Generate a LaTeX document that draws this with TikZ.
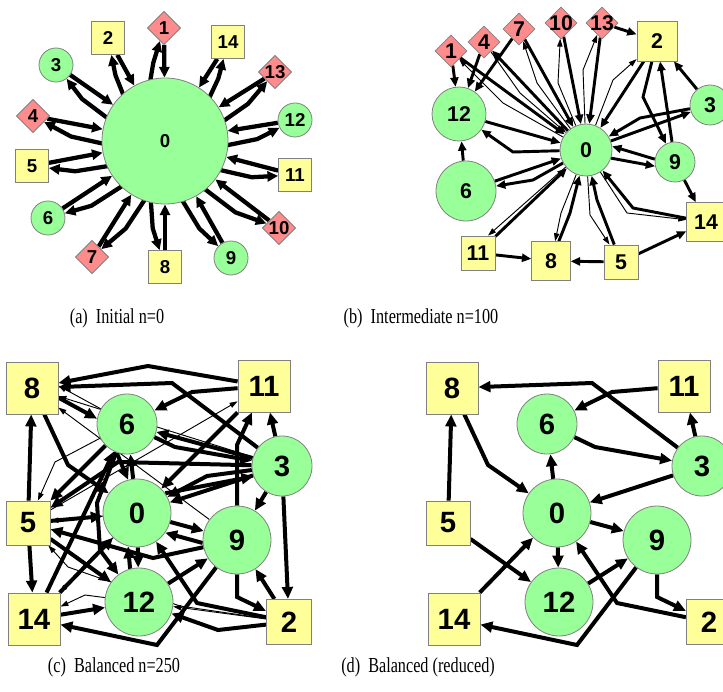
\documentclass[tikz,border=0pt]{standalone}
\usepackage{fontspec}
\setmainfont{Liberation Serif}
\newfontfamily\labfont{Liberation Sans}
\usetikzlibrary{shapes.geometric,arrows.meta,calc}
\pgfdeclarelayer{edges}
\pgfsetlayers{edges,main}
\definecolor{sqy}{RGB}{255,255,153}
\definecolor{cig}{RGB}{153,255,153}
\definecolor{dir}{RGB}{255,140,140}
\definecolor{bdr}{RGB}{128,128,128}
\tikzset{
 nb/.style={draw=bdr, line width=0.6pt, inner sep=0pt},
 sqn/.style={nb, rectangle, fill=sqy, minimum size=#1},
 cin/.style={nb, circle, fill=cig, minimum size=#1},
 din/.style={nb, diamond, fill=dir, minimum width=#1, minimum height=#1},
 fa/.style={font=\labfont\bfseries\fontsize{14}{14}\selectfont},
 fb/.style={font=\labfont\bfseries\fontsize{16}{16}\selectfont},
 fc/.style={font=\labfont\bfseries\fontsize{22}{22}\selectfont},
 ea/.style={line width=3.2pt, -{Triangle[length=8pt,width=7.5pt]}},
 bk/.style={line width=2.2pt, -{Triangle[length=7pt,width=6pt]}},
 bt/.style={line width=0.7pt, -{Triangle[length=6pt,width=4pt]}},
 ck/.style={line width=3pt, -{Triangle[length=9pt,width=8pt]}},
 ct/.style={line width=0.7pt, -{Triangle[length=6pt,width=4pt]}},
 captxt/.style={font=\fontsize{16}{17}\selectfont}
}
\newcommand\captext[1]{\scalebox{0.76}[1]{#1}}
\newcommand\spoke[3]{%
  \draw[ea] (#1) -- (a0);
  \draw[ea] ($(a0)!47pt!#2:(#1)$) -- ($(a0)!0.7!#3:(#1)$) -- (#1);
}
\newcommand\balnodes[1]{%
 \node[sqn=39pt,fc] (#18) at (32,388) {8};
 \node[sqn=39pt,fc] (#111) at (264,386) {11};
 \node[cin=45pt,fc] (#16) at (127,424) {6};
 \node[cin=45pt,fc] (#13) at (282,466) {3};
 \node[cin=51pt,fc] (#10) at (137,513) {0};
 \node[sqn=33pt,fc] (#15) at (28,523) {5};
 \node[cin=51pt,fc] (#19) at (237,540) {9};
 \node[cin=51pt,fc] (#112) at (139,602) {12};
 \node[sqn=39pt,fc] (#114) at (34,619) {14};
 \node[sqn=34pt,fc] (#12) at (289,622) {2};
}
\newcommand\redges[1]{%
 \draw[ck] (#111) -- (192,392) -- (#16);
 \draw[ck] (#13) -- (172,383) -- (#18);
 \draw[ck] (#16) -- (175,447) -- (#13);
 \draw[ck] (#13) -- (#111);
 \draw[ck] (#13) -- (#10);
 \draw[ck] (#10) -- (#16);
 \draw[ck] (#18) -- (68,465) -- (#10);
 \draw[ck] (#15) -- (#18);
 \draw[ck] (#10) -- (#19);
 \draw[ck] (#10) -- (#112);
 \draw[ck] (#15) -- (#112);
 \draw[ck] (#114) -- (#10);
 \draw[ck] (#112) -- (#19);
 \draw[ck] (#19) -- (157,645) -- (#114);
 \draw[ck] (#12) -- (197,603) -- (#10);
 \draw[ck] (#19) -- (237,597) -- (#12);
}
\begin{document}
\begin{tikzpicture}[x=0.75pt,y=-0.75pt]
\useasboundingbox (0,0) rectangle (723,691);
% ---------- (a) ----------
\node[cin=94.5pt,fa] (a0) at (165,141) {0};
\node[din=25pt,label={[fa]center:1}] (a1) at (164,28) {};
\node[sqn=24.75pt,fa] (a2) at (108,38) {2};
\node[cin=25.5pt,fa] (a3) at (56,65) {3};
\node[din=25pt,label={[fa]center:4}] (a4) at (33,116) {};
\node[sqn=24.75pt,fa] (a5) at (32,166) {5};
\node[cin=25.5pt,fa] (a6) at (48,218) {6};
\node[din=25pt,label={[fa]center:7}] (a7) at (92,257) {};
\node[sqn=24.75pt,fa] (a8) at (165,267) {8};
\node[cin=25.5pt,fa] (a9) at (231,258) {9};
\node[din=25pt,label={[fa]center:10}] (a10) at (279,228) {};
\node[sqn=24.75pt,fa] (a11) at (295,175) {11};
\node[cin=25.5pt,fa] (a12) at (295,120) {12};
\node[din=25pt,label={[fa]center:13}] (a13) at (275,72) {};
\node[sqn=24.75pt,fa] (a14) at (228,42) {14};
\begin{pgfonlayer}{edges}
\spoke{a1}{13}{8}
\spoke{a2}{13}{8}
\spoke{a3}{13}{8}
\spoke{a4}{13}{8}
\spoke{a5}{13}{8}
\spoke{a6}{13}{8}
\spoke{a7}{13}{8}
\spoke{a8}{-13}{-8}
\spoke{a9}{-13}{-8}
\spoke{a10}{-13}{-8}
\spoke{a11}{-13}{-8}
\spoke{a12}{-13}{-8}
\spoke{a13}{-13}{-8}
\spoke{a14}{-13}{-8}
\end{pgfonlayer}
% ---------- (b) ----------
\node[cin=39pt,fb] (b0) at (586,150) {0};
\node[din=24pt,label={[fb]center:1}] (b1) at (451,51) {};
\node[din=24pt,label={[fb]center:4}] (b4) at (484,42) {};
\node[din=24pt,label={[fb]center:7}] (b7) at (519,29) {};
\node[din=24pt,label={[fb]center:10}] (b10) at (561,23) {};
\node[din=24pt,label={[fb]center:13}] (b13) at (602,23) {};
\node[sqn=30pt,fb] (b2) at (657,41) {2};
\node[cin=30pt,fb] (b3) at (710,105) {3};
\node[cin=40.5pt,fb] (b12) at (459,114) {12};
\node[cin=30pt,fb] (b9) at (675,162) {9};
\node[cin=45pt,fb] (b6) at (466,191) {6};
\node[sqn=29pt,fb] (b14) at (706,222) {14};
\node[sqn=25.5pt,fb] (b11) at (478,253) {11};
\node[sqn=29pt,fb] (b8) at (551,261) {8};
\node[sqn=25.5pt,fb] (b5) at (621,262) {5};
\begin{pgfonlayer}{edges}
\draw[bk] (b13) -- (b2);
\draw[bk] (b1) -- (b12);
\draw[bk] (b4) -- (b12);
\draw[bk] (b7) -- (b12);
\draw[bk] (b1) -- (b0);
\draw[bt] (b0) -- (503,103) -- (b1);
\draw[bk] (b0) -- (b4);
\draw[bt] (b4) -- (520,93) -- (b0);
\draw[bk] (b7) -- (b0);
\draw[bt] (b0) -- (537,83) -- (b7);
\draw[bk] (b10) -- (b0);
\draw[bt] (b0) -- (558,83) -- (b10);
\draw[bk] (b13) -- (b0);
\draw[bt] (b0) -- (583,70) -- (b13);
\draw[bk] (b2) -- (b0);
\draw[bt] (b0) -- (613,80) -- (b2);
\draw[bk] (b2) -- (643,97) -- (b9);
\draw[bk] (b9) -- (b2);
\draw[bk] (b3) -- (b2);
\draw[bk] (b3) -- (640,118) -- (b0);
\draw[bk] (b0) -- (b3);
\draw[bk] (b12) -- (b0);
\draw[bk] (b0) -- (513,152) -- (b12);
\draw[bk] (b6) -- (b12);
\draw[bk] (b6) -- (b0);
\draw[bk] (b0) -- (533,180) -- (b6);
\draw[bk] (b9.172) -- (b0.8);
\draw[bk] (b0.-18) -- (b9.192);
\draw[bk] (b9) -- (b14);
\draw[bk] (b14) -- (633,208) -- (b0);
\draw[bt] (b0) -- (627,213) -- (b14);
\draw[bk] (b5) -- (b14);
\draw[bk] (b5) -- (b8);
\draw[bk] (b11) -- (b8);
\draw[bk] (b11) -- (b0);
\draw[bt] (b0.220) -- (b11.60);
\draw[bk] (b8) -- (570,213) -- (b0);
\draw[bt] (b0) -- (561,213) -- (b8);
\draw[bk] (b5) -- (597,200) -- (b0);
\draw[bt] (b0) -- (590,215) -- (b5);
\end{pgfonlayer}
% ---------- (c) ----------
\balnodes{c}
\begin{pgfonlayer}{edges}
\redges{c}
\draw[ck] (c11) -- (148,366) -- (c8);
\draw[ck] (c3) -- (c6);
\draw[ck] (c3) -- (207,476) -- (c0);
\draw[ck] (c0.35) -- (c3.200);
\draw[ck] (c3) -- (118,462) -- (c5);
\draw[ck] (c11) -- (c0);
\draw[ck] (c9) -- (237,445) -- (c11);
\draw[ck] (c3) -- (c9);
\draw[ck] (c3) -- (c2);
\draw[ck] (c2) -- (c9);
\draw[ck] (c2) -- (218,630) -- (c12);
\draw[ck] (c9.185) -- (c0.-35);
\draw[ck] (c9) -- (153,558) -- (c5);
\draw[ck] (c5) -- (c0);
\draw[ck] (c12.105) -- (c0.-105);
\draw[ck] (c14) -- (c12);
\draw[ck] (c14) -- (c6);
\draw[ck] (c6) -- (c5);
\draw[ck] (c6) -- (97,503) -- (100,550) -- (c12);
\draw[ck] (c6.-110) -- (c0.105);
\draw[ck] (c5) -- (c14);
\draw[ck] (c8.-20) -- (c6.170);
\draw[ct] (c6.150) -- (c8.5);
\draw[ct] (c3) -- (c8);
\draw[ct] (c9) -- (c8);
\draw[ct] (c5) -- (c11);
\draw[ct] (c6) -- (55,462) -- (c5);
\draw[ct] (c0) -- (c5);
\draw[ct] (c0) -- (c14);
\draw[ct] (c12) -- (85,595) -- (c14);
\draw[ct] (c2) -- (180,606) -- (68,567) -- (c5);
\draw[ct] (c2) -- (c12);
\end{pgfonlayer}
% ---------- (d) ----------
\begin{scope}[xshift=315pt]
\balnodes{d}
\end{scope}
\begin{pgfonlayer}{edges}
\begin{scope}[xshift=315pt]
\redges{d}
\end{scope}
\end{pgfonlayer}
% ---------- captions ----------
\node[captxt] (capa) at (117,318) {\captext{(a)\enspace Initial n=0}};
\node[captxt] (capb) at (421,318) {\captext{(b)\enspace Intermediate n=100}};
\node[captxt] (capc) at (114,667) {\captext{(c)\enspace Balanced n=250}};
\node[captxt] (capd) at (418,667) {\captext{(d)\enspace Balanced (reduced)}};
\end{tikzpicture}
\end{document}
